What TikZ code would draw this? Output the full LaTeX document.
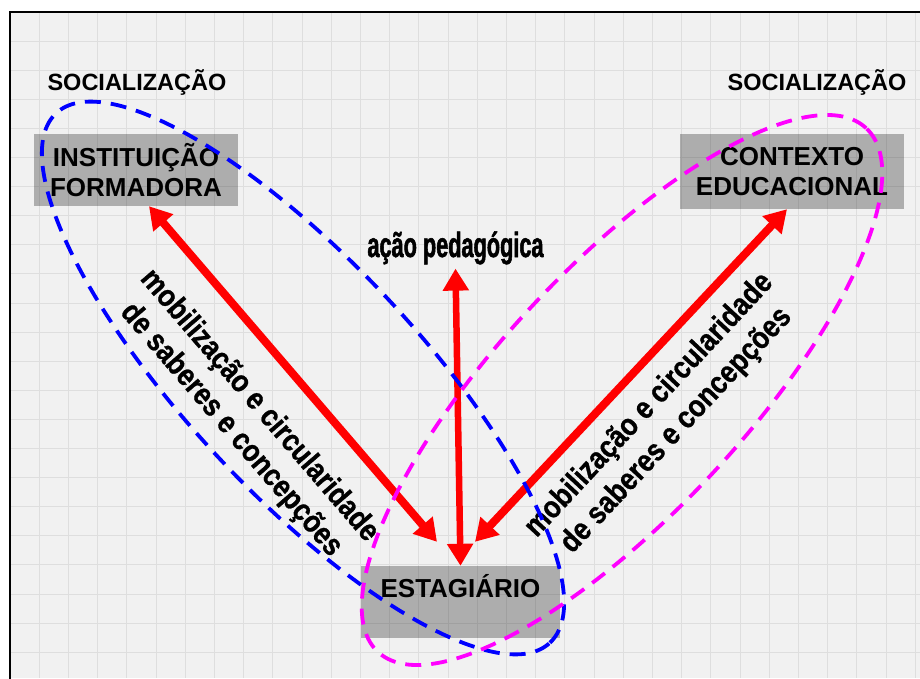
\documentclass[tikz,border=0pt]{standalone}
\usepackage{fontspec}
\setmainfont{Liberation Sans}
\newfontfamily\estreita{Liberation Sans Bold}[FakeStretch=0.62,FakeBold=1.5]
\newfontfamily\condensada{Liberation Sans Bold}[FakeStretch=0.86,FakeBold=0.8]
\usetikzlibrary{arrows.meta}
\definecolor{fundo}{RGB}{241,241,241}
\definecolor{linhagrade}{RGB}{222,222,222}
\definecolor{azul}{RGB}{0,0,255}
\definecolor{rosa}{RGB}{255,0,255}
\definecolor{vermelho}{RGB}{255,0,0}
\tikzset{
  caixa/.style={fill=black, fill opacity=0.28, text opacity=1, inner sep=0pt, align=center,
    font=\bfseries\fontsize{26}{30}\selectfont},
  seta/.style={vermelho, line width=8pt, {Triangle[length=22pt,width=25pt]}-{Triangle[length=22pt,width=25pt]}},
  tracejado/.style={line width=3.8pt, dash pattern=on 16pt off 10pt},
  soc/.style={anchor=base, inner sep=0pt, font=\bfseries\fontsize{23.5}{27}\selectfont},
  rotulo/.style={inner sep=0pt, align=center, font=\condensada\fontsize{31}{37}\selectfont}
}
\begin{document}
\begin{tikzpicture}[x=1pt,y=-1pt]
\useasboundingbox (0,0) rectangle (920,678);
% fundo quadriculado
\fill[fundo] (10,12) rectangle (920,678);
\foreach \i in {1,...,31} \draw[linhagrade, line width=1pt] ({10+29.2*\i},12) -- ({10+29.2*\i},678);
\foreach \j in {1,...,23} \draw[linhagrade, line width=1pt] (10,{12+29.1*\j}) -- (920,{12+29.1*\j});
\draw[line width=2pt] (10,12) rectangle (940,700);

% caixas
\node[caixa, minimum width=204pt, minimum height=72pt] (formadora) at (136,170) {INSTITUIÇÃO\\FORMADORA};
\node[caixa, minimum width=224pt, minimum height=75pt] (contexto) at (792,171.5) {CONTEXTO\\EDUCACIONAL};
\node[caixa, minimum width=199pt, minimum height=72pt, text height=31pt, text depth=41pt] (estagiario) at (460.5,602) {ESTAGIÁRIO};

\node[soc] (socesq) at (137,90) {SOCIALIZAÇÃO};
\node[soc] (socdir) at (817,90) {SOCIALIZAÇÃO};
\node[anchor=base, inner sep=0pt, font=\estreita\fontsize{35}{40}\selectfont] (acao) at (455.5,257) {ação pedagógica};

% setas
\draw[seta] ([xshift=13pt]formadora.south) -- ([xshift=-23.5pt,yshift=24pt]estagiario.north);
\draw[seta, line width=6.5pt] ([yshift=-4pt]acao.south) -- (estagiario.north);
\draw[seta] ([xshift=-5pt]contexto.south) -- ([xshift=14.5pt,yshift=24pt]estagiario.north);

\node[rotulo, rotate=-49.3] (rotuloesq) at (245,418) {mobilização e circularidade\\de saberes e concepções};
\node[rotulo, rotate=47] (rotulodir) at (663,418) {mobilização e circularidade\\de saberes e concepções};

% elipses de socializacao
\draw[tracejado, azul, rotate around={-47:(303,378)}] (303,378) ellipse [x radius=362pt, y radius=116pt];
\draw[tracejado, rosa, rotate around={47:(622,390)}] (622,390) ellipse [x radius=358pt, y radius=123pt];
\end{tikzpicture}
\end{document}
